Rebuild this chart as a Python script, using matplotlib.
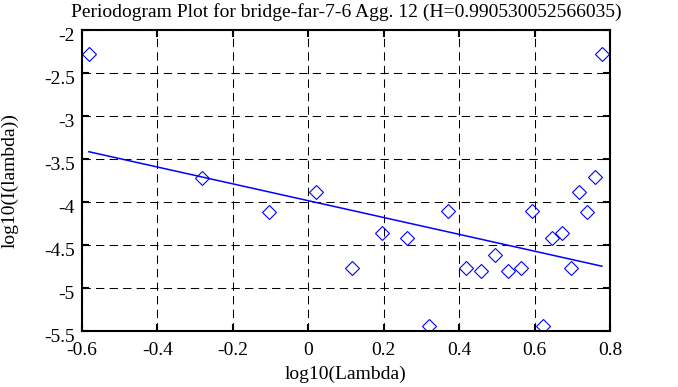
import numpy as np
import matplotlib
matplotlib.use("Agg")
import matplotlib.pyplot as plt
import matplotlib.transforms as mtrans

plt.rcParams["font.family"] = ["Liberation Serif", "DejaVu Serif"]

# periodogram points (log10 lambda, log10 I(lambda))
log_lambda = [-0.581, -0.281, -0.104, 0.020, 0.116, 0.196, 0.263, 0.319,
              0.371, 0.418, 0.459, 0.496, 0.530, 0.564, 0.593, 0.622,
              0.647, 0.672, 0.695, 0.717, 0.738, 0.759, 0.778]
log_I = [-2.27, -3.716, -4.115, -3.886, -4.768, -4.357, -4.422, -5.44,
         -4.10, -4.764, -4.803, -4.617, -4.803, -4.764, -4.10, -5.44,
         -4.422, -4.357, -4.764, -3.882, -4.115, -3.711, -2.274]

H = 0.990530052566035
slope = 1 - 2 * H          # fitted slope
intercept = -3.982         # fitted intercept
fit_x = [log_lambda[0], log_lambda[-1]]

fig = plt.figure(figsize=(6.78, 3.87), dpi=100)
ax = fig.add_axes([0.1205, 0.1447, 0.7795, 0.7765])

ax.plot(log_lambda, log_I, "D", ms=7, mfc="none", mec="blue", mew=0.8)
fx = np.array(fit_x)
ax.plot(fx, slope * fx + intercept, color="blue", lw=1.1)

ax.set_xlim(-0.6, 0.8)
ax.set_ylim(-5.5, -2)
ax.set_xticks(np.arange(-0.6, 0.81, 0.2))
ax.set_xticklabels(["-0.6", "-0.4", "-0.2", "0", "0.2", "0.4", "0.6", "0.8"])
ax.set_yticks(np.arange(-5.5, -1.99, 0.5))
ax.set_yticklabels(["-5.5", "-5", "-4.5", "-4", "-3.5", "-3", "-2.5", "-2"])
ax.grid(True, color="black", linestyle=(0, (8, 5)), lw=0.75)
ax.tick_params(direction="in", length=5, width=1.5, top=True, right=True,
               labelsize=14)
ax.tick_params(axis="x", pad=8)
ax.tick_params(axis="y", pad=5)
for s in ax.spines.values():
    s.set_linewidth(1.5)

# y tick labels sit a little below their ticks in the original
shift = mtrans.ScaledTranslation(0, -0.04, fig.dpi_scale_trans)
for lab in ax.get_yticklabels():
    lab.set_transform(lab.get_transform() + shift)

ax.set_title("Periodogram Plot for bridge-far-7-6 Agg. 12 (H=%s)" % repr(H),
             fontsize=14, pad=10)
ax.set_xlabel("log10(Lambda)", fontsize=14, labelpad=5)
ax.set_ylabel("log10(I(lambda))", fontsize=14, labelpad=18)

fig.savefig("out.png", dpi=100)
